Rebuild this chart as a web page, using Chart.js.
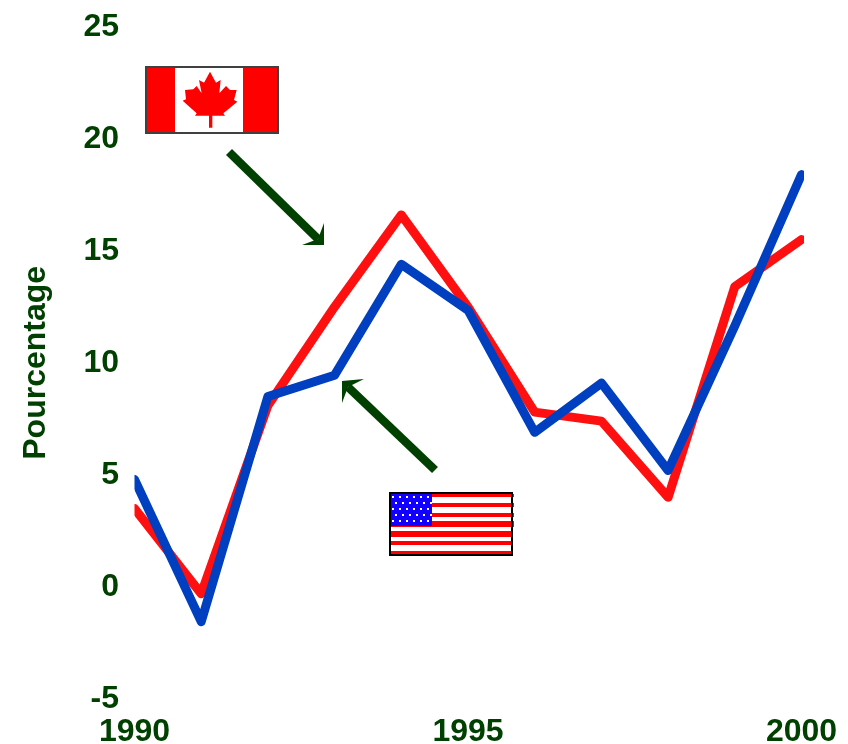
<!DOCTYPE html>
<html><head><meta charset="utf-8">
<style>html,body{margin:0;padding:0;background:#fff}canvas{display:block}</style>
<script src="https://cdn.jsdelivr.net/npm/chart.js@4"></script>
</head><body><canvas id="c" width="848" height="744"></canvas>
<script>
const years = ['1990','1991','1992','1993','1994','1995','1996','1997','1998','1999','2000'];
const canada = [3.5,-0.3,8.1,12.5,16.6,12.5,7.8,7.4,4.0,13.4,15.5];
const usa = [4.8,-1.55,8.5,9.45,14.4,12.35,6.9,9.1,5.2,11.65,18.4];
const yTitle = 'Pourcentage';
const GREEN = '#004000';
const FONT = {family:'"Liberation Sans", Arial, sans-serif', weight:'bold', size:32};
const LINE_CLIP = {left:0,right:2.5,top:20,bottom:20};

function arrow(ctx, tail, tip, b1, b2, notch){
  ctx.strokeStyle = GREEN; ctx.fillStyle = GREEN; ctx.lineWidth = 8.5; ctx.lineCap = 'butt';
  ctx.beginPath(); ctx.moveTo(tail[0],tail[1]); ctx.lineTo(notch[0],notch[1]); ctx.stroke();
  ctx.beginPath(); ctx.moveTo(tip[0],tip[1]); ctx.lineTo(b1[0],b1[1]); ctx.lineTo(notch[0],notch[1]); ctx.lineTo(b2[0],b2[1]); ctx.closePath(); ctx.fill();
}
function canadaFlag(ctx){
  ctx.fillStyle='#fff'; ctx.fillRect(146,67,132,66);
  ctx.fillStyle='#f00'; ctx.fillRect(146,67,29,66); ctx.fillRect(243,67,35,66);
  const leaf=[[240,65],[258,98],[272,90],[268,130],[288,108],[300,120],[320,120],[312,150],[322,155],[280,190],[285,197],[247,197],[247,233],[237,233],[237,197],[195,197],[200,190],[158,152],[168,148],[165,120],[190,118],[200,108],[215,130],[207,90],[222,98]];
  ctx.beginPath(); leaf.forEach((p,i)=>{const x=p[0]/3+130,y=p[1]/3+50; i?ctx.lineTo(x,y):ctx.moveTo(x,y);}); ctx.closePath(); ctx.fill();
  ctx.strokeStyle='#404040'; ctx.lineWidth=2; ctx.strokeRect(146,67,132,66);
}
function usaFlag(ctx){
  ctx.fillStyle='#fff'; ctx.fillRect(390,493,122,62);
  ctx.fillStyle='#f00';
  [[494,3,514],[503,4,514],[513,4,514],[521,6,514],[531,6,512],[541,4,512],[551,3,512]].forEach(s=>ctx.fillRect(390,s[0],s[2]-390,s[1]));
  ctx.fillStyle='#10f'; ctx.fillRect(391,494,41,32);
  ctx.fillStyle='#fff';
  for(let r=0;r<5;r++){ for(let k=0;k<6;k++){ ctx.fillRect(392+k*7+(r%2?3:0),496+r*6,2,2); } }
  ctx.strokeStyle='#000'; ctx.lineWidth=2; ctx.strokeRect(390,493,122,62);
}
const decor = {id:'decor', afterDraw(ch){
  const ctx=ch.ctx; ctx.save();
  canadaFlag(ctx); usaFlag(ctx);
  arrow(ctx,[229,152],[324,245],[324,223],[302,245],[318,239]);
  arrow(ctx,[435,470],[342,381],[342,403],[364,379],[348,387]);
  ctx.restore();
}};
new Chart(document.getElementById('c'),{
  type:'line',
  data:{labels:years,datasets:[
    {label:'États-Unis',data:usa,borderColor:'#0040c0',backgroundColor:'#0040c0',borderWidth:9,pointRadius:0,tension:0,borderJoinStyle:'round',borderCapStyle:'round',clip:LINE_CLIP},
    {label:'Canada',data:canada,borderColor:'#ff1010',backgroundColor:'#ff1010',borderWidth:9,pointRadius:0,tension:0,borderJoinStyle:'round',borderCapStyle:'round',clip:LINE_CLIP}
  ]},
  options:{
    responsive:false,animation:false,
    layout:{padding:{top:24,right:46.5,left:0,bottom:0}},
    plugins:{legend:{display:false},tooltip:{enabled:false}},
    scales:{
      x:{grid:{display:false},border:{display:false},
         afterFit(s){s.height=45;},
         ticks:{color:GREEN,font:FONT,autoSkip:false,maxRotation:0,padding:6,
           callback(v,i){return i%5===0?years[i]:'';}}},
      y:{min:-5,max:25,grid:{display:false},border:{display:false},
         afterFit(s){s.width=134.5;},
         ticks:{color:GREEN,font:FONT,stepSize:5,padding:7.5},
         title:{display:true,text:yTitle,color:GREEN,font:FONT,padding:{top:17,bottom:0}}}
    }
  },
  plugins:[decor]
});
</script>
</body></html>
